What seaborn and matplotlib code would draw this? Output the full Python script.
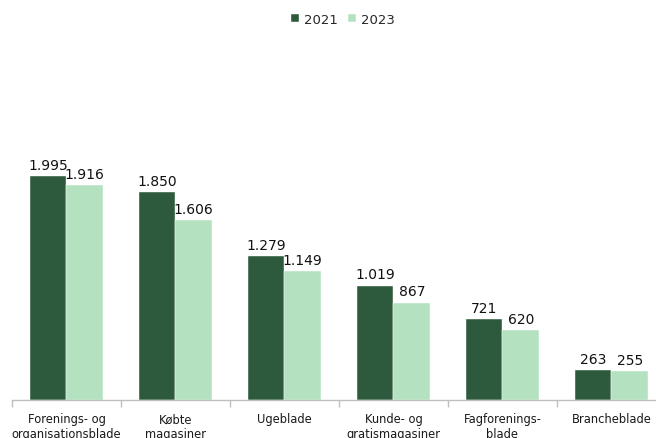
import matplotlib
matplotlib.use("Agg")
import matplotlib.pyplot as plt
import seaborn as sns
import pandas as pd
from matplotlib import font_manager

categories = ["Forenings- og\norganisationsblade", "Købte\nmagasiner", "Ugeblade",
              "Kunde- og\ngratismagasiner", "Fagforenings-\nblade", "Brancheblade"]
years = ["2021", "2023"]
values_2021 = [1995, 1850, 1279, 1019, 721, 263]
values_2023 = [1916, 1606, 1149, 867, 620, 255]
colors = ["#2D5A3C", "#B4E2C1"]

df = pd.DataFrame({
    "Kategori": categories * 2,
    "År": [years[0]] * len(categories) + [years[1]] * len(categories),
    "Antal": values_2021 + values_2023,
})

sns.set_theme(style="white")
plt.rcParams["font.family"] = ["DejaVu Sans"]

available = {f.name for f in font_manager.fontManager.ttflist}
narrow = "Liberation Sans Narrow" if "Liberation Sans Narrow" in available else "DejaVu Sans"

fig = plt.figure(figsize=(6.56, 4.39), dpi=100)
ax = fig.add_axes([12 / 656, 38 / 439, 654 / 656, 280.7 / 439])

sns.barplot(data=df, x="Kategori", y="Antal", hue="År", palette=colors,
            width=0.67, gap=0, ax=ax, saturation=1, edgecolor="white", linewidth=0.3)

ax.set_ylim(0, 2500)
ax.set_xlim(-0.5, len(categories) - 0.5)
ax.set_ylabel("")
ax.set_xlabel("")
ax.set_yticks([])
for side in ["top", "right", "left"]:
    ax.spines[side].set_visible(False)
ax.spines["bottom"].set_color("#BFBFBF")
ax.spines["bottom"].set_linewidth(1)

# boundary ticks between categories
ax.set_xticks([i - 0.5 for i in range(len(categories))], minor=True)
ax.tick_params(axis="x", which="minor", length=5, color="#BFBFBF", width=1, bottom=True)
ax.tick_params(axis="x", which="major", length=0, pad=9)
ax.set_xticks(range(len(categories)))
ax.set_xticklabels(categories, fontsize=8.3, family=narrow, color="#1A1A1A",
                   linespacing=1.15, va="top")

def fmt(v):
    return f"{int(round(v)):,}".replace(",", ".")

for container in ax.containers:
    ax.bar_label(container, labels=[fmt(v) for v in container.datavalues],
                 fontsize=10, family="DejaVu Sans", color="#111111", padding=3)

handles, labels = ax.get_legend_handles_labels()
ax.legend(handles, labels, loc="upper center", bbox_to_anchor=(343 / 656, 1 - 2 / 439),
          bbox_transform=fig.transFigure, ncol=2, frameon=False,
          prop={"family": "DejaVu Sans", "size": 9.5},
          handlelength=0.6, handleheight=0.6, handletextpad=0.4, columnspacing=0.8)

fig.savefig("out.png", dpi=100)
